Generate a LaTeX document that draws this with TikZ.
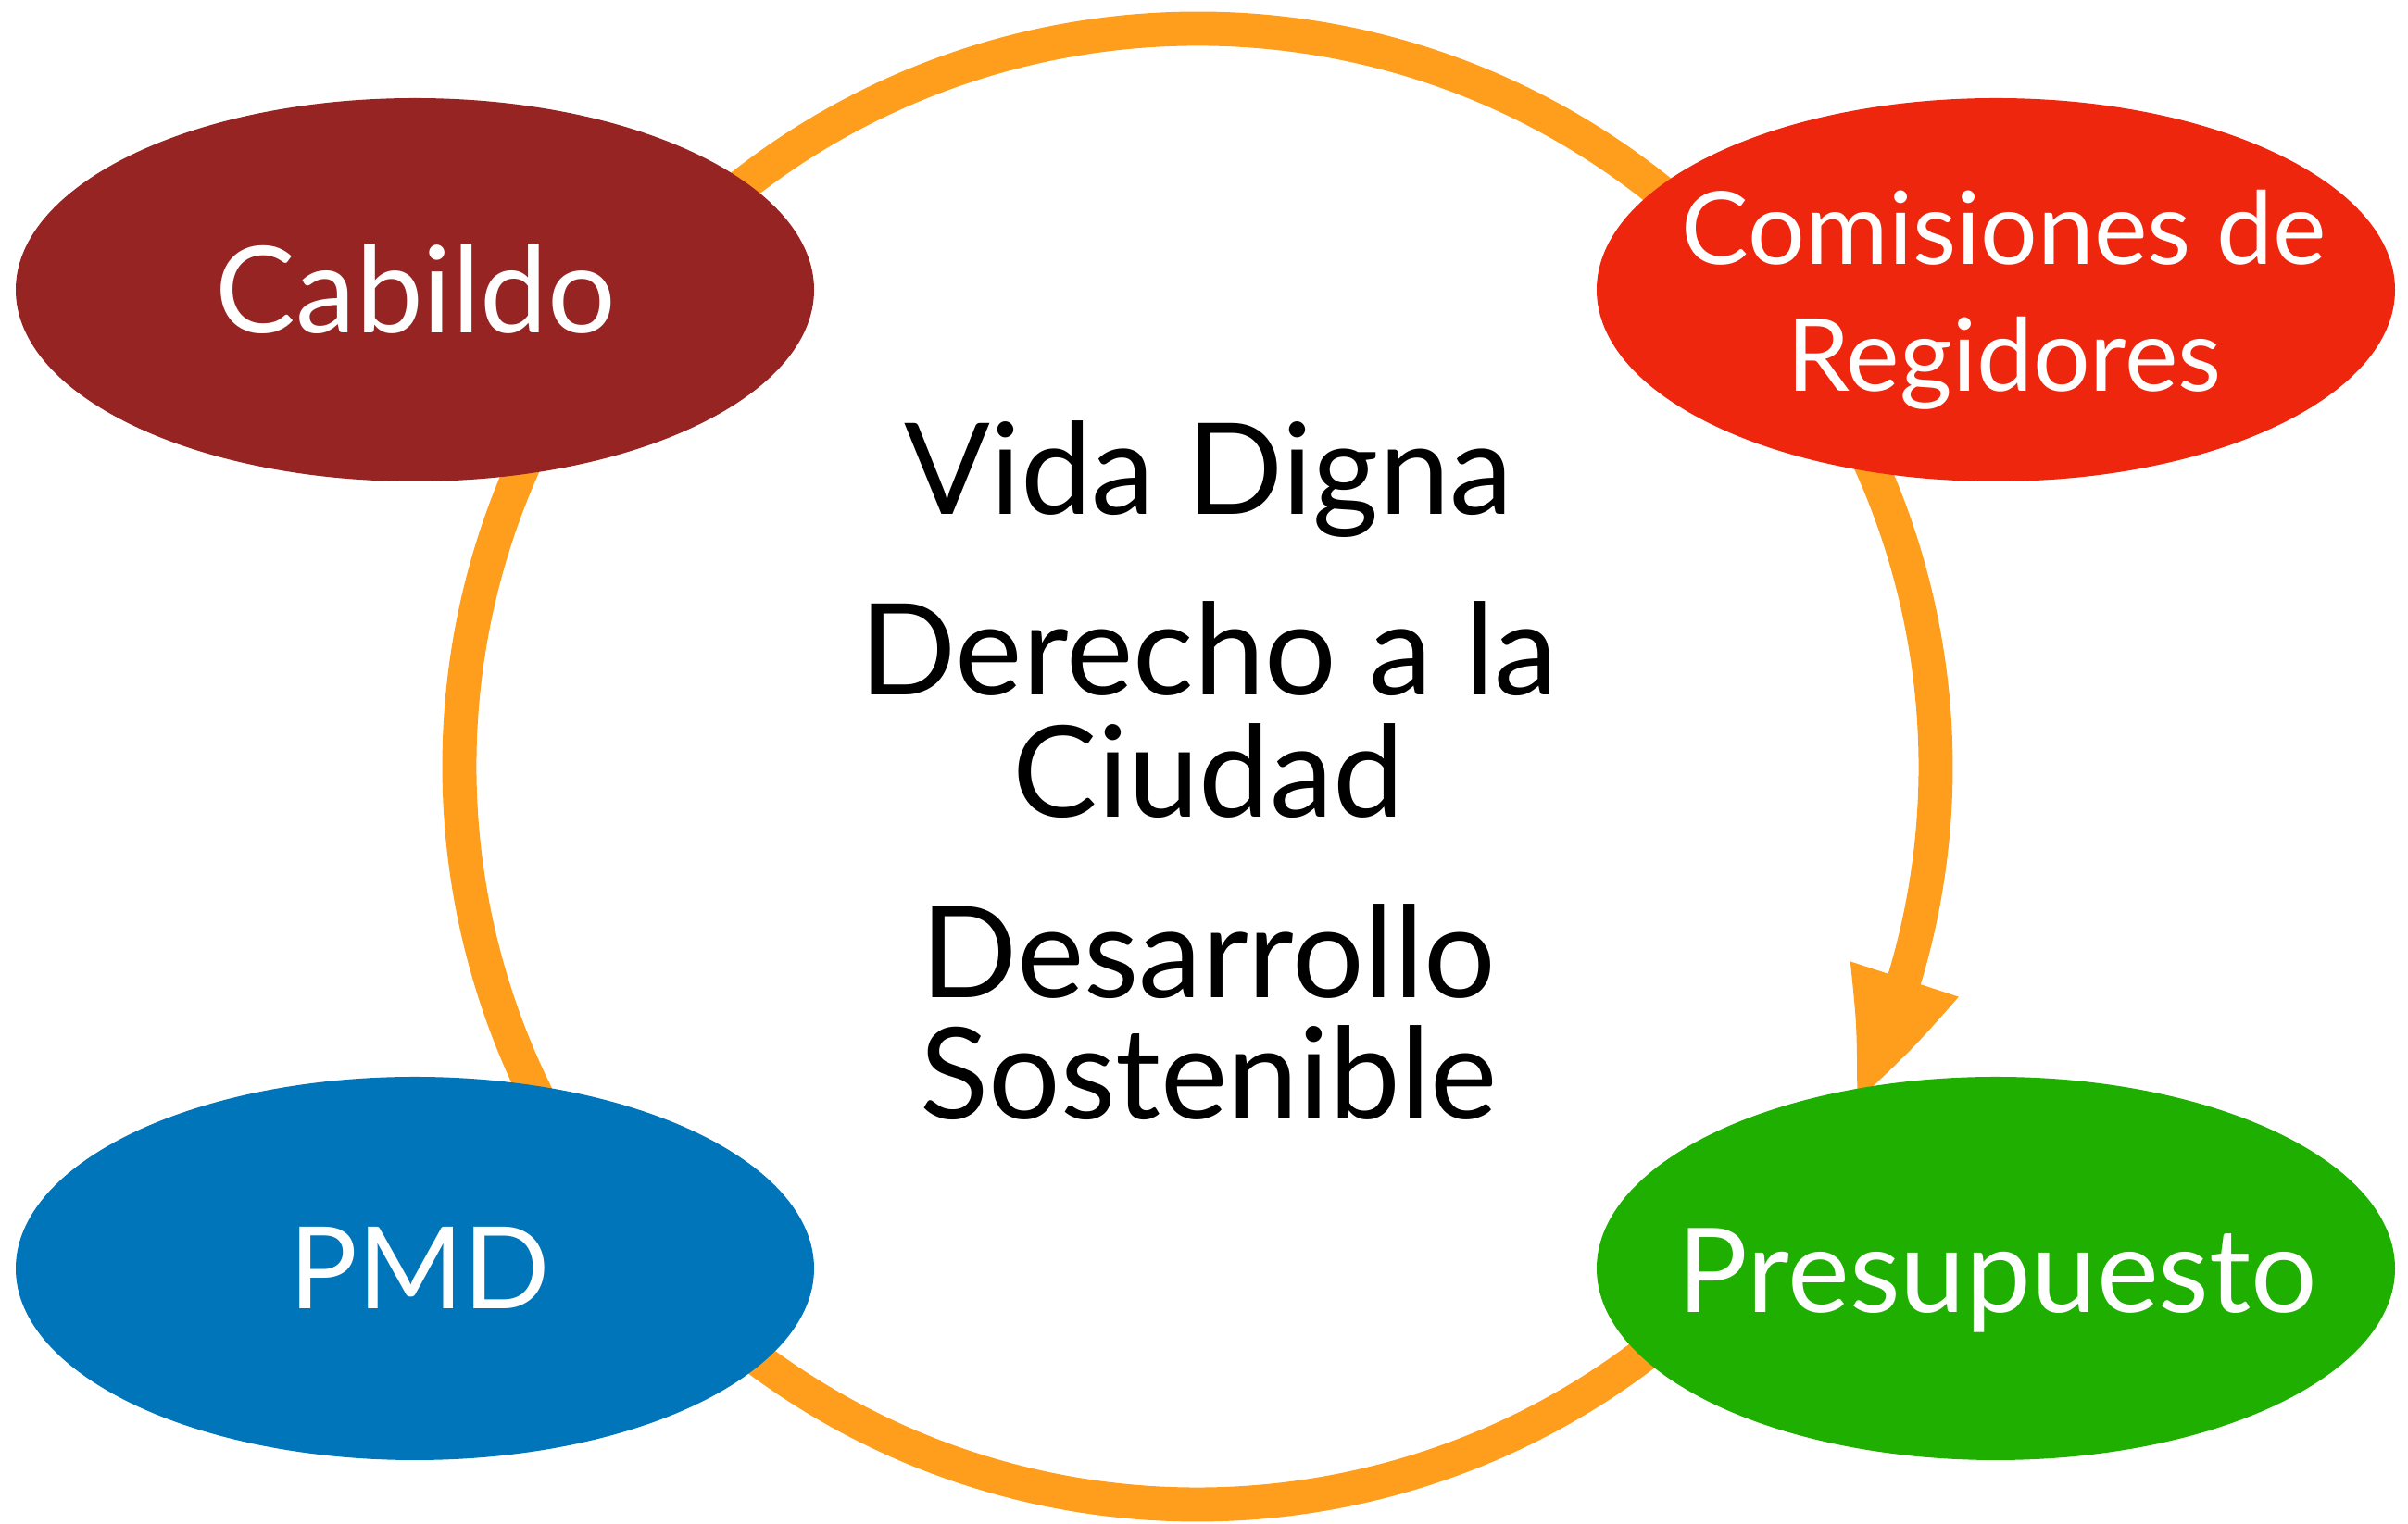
\documentclass[tikz,border=0pt]{standalone}
\usepackage{fontspec}
\setmainfont{Lato}
\usetikzlibrary{shapes.geometric,arrows.meta,bending}

\definecolor{ringorange}{RGB}{255,158,29}
\definecolor{cabildored}{RGB}{149,36,35}
\definecolor{comisionred}{RGB}{238,38,14}
\definecolor{pmdblue}{RGB}{0,117,186}
\definecolor{presugreen}{RGB}{31,175,0}

\tikzset{
	bubble/.style={ellipse, minimum width=8.62cm, minimum height=4.14cm, inner sep=0pt},
	bubbletext/.style={text=white, anchor=base, align=center, font=\fontsize{37}{39}\selectfont},
}

\begin{document}
\begin{tikzpicture}
		\useasboundingbox (0,0) rectangle (26,16.46);

		% Draw the ring with its arrow
		\coordinate (hub) at (12.93,8.18);
		\draw[ringorange, line width=10.5pt, -{Triangle[length=1.5cm, width=1.1cm, bend]}]
		(hub) ++(320:7.97) arc[start angle=320, end angle=-27.4, radius=7.97];

		% Draw the four ellipses
		\node[bubble, fill=cabildored] (cabildo) at (4.48,13.33) {};
		\node[bubble, fill=comisionred] (comisiones) at (21.55,13.33) {};
		\node[bubble, fill=pmdblue] (pmd) at (4.48,2.76) {};
		\node[bubble, fill=presugreen] (presupuesto) at (21.55,2.76) {};

		% Write the labels (base is the last line)
		\node[bubbletext] (cabildo label) at (4.49,12.86) {Cabildo};
		\node[bubbletext, font=\fontsize{31}{39}\selectfont] (comisiones label) at (21.64,12.23) {Comisiones de\\Regidores};
		\node[bubbletext, font=\fontsize{35}{39}\selectfont] (pmd label) at (4.53,2.32) {PMD};
		\node[bubbletext, font=\fontsize{36}{39}\selectfont] (presupuesto label) at (21.57,2.28) {Presupuesto};

		% Write the text in the middle
		\node[anchor=base, align=center, font=\fontsize{39}{37.5}\selectfont] (valores) at (13.05,4.37)
		{Vida Digna\\[18pt]Derecho a la\\Ciudad\\[18pt]Desarrollo\\Sostenible};

	\end{tikzpicture}
\end{document}
